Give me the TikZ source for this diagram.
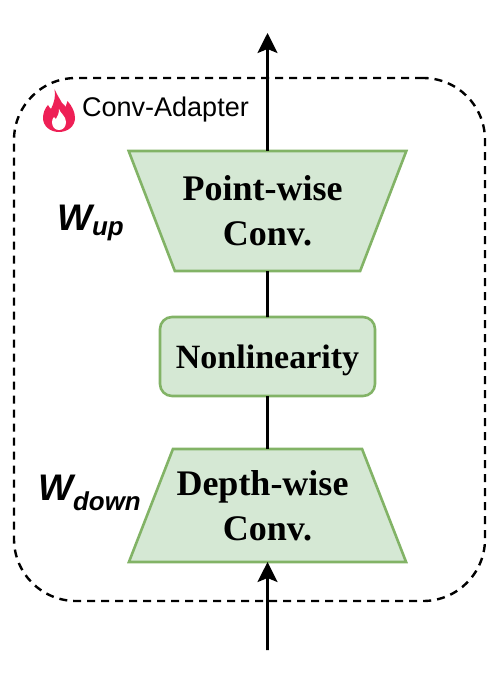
\documentclass[tikz,border=0pt]{standalone}
\usepackage{fontspec}
\setmainfont{Liberation Serif}
\setsansfont{Liberation Sans}
\usetikzlibrary{shapes.geometric,positioning,calc,arrows.meta}
\definecolor{blockfill}{HTML}{D5E8D4}
\definecolor{blockline}{HTML}{82B366}
\definecolor{flamered}{HTML}{EE2056}
\tikzset{BLOCK/.style={draw=blockline,fill=blockfill,line width=2.6pt,outer sep=0pt,inner sep=0pt,align=center,font=\bfseries\fontsize{36}{45}\selectfont}}
\tikzset{TRAP/.style={BLOCK,trapezium,trapezium stretches=true,minimum width=278pt}}
\tikzset{ARROW/.style={line width=2.6pt,-{Stealth[length=20pt,width=20pt,inset=4pt]}}}
\tikzset{WIRE/.style={line width=2.6pt}}
\tikzset{WEIGHT/.style={font=\sffamily\bfseries\itshape\fontsize{37}{40}\selectfont,inner sep=0pt}}

\begin{document}
\begin{tikzpicture}[x=1pt,y=-1pt]
\useasboundingbox (0,0) rectangle (498,687);

\node[draw,line width=2.4pt,dash pattern=on 8pt off 6pt,rounded corners=62pt,minimum width=471pt,minimum height=523pt,inner sep=0pt] (n_adapter) at (249.5,339.5) {};

\node[TRAP,trapezium angle=59,shape border rotate=180,minimum height=120pt] (n_point) at (267.5,211) {Point-wise\hspace*{10pt}\\Conv.};
\node[BLOCK,rectangle,rounded corners=12pt,minimum width=215pt,minimum height=79pt,text height=32pt,text depth=7.5pt,font=\bfseries\fontsize{34}{40}\selectfont] (n_nonlin) at (267.5,356.5) {Nonlinearity};
\node[TRAP,trapezium angle=59,minimum height=113pt] (n_depth) at (267.5,505.5) {Depth-wise\hspace*{10pt}\\Conv.};

\coordinate (c_in) at (267.5,650);
\coordinate (c_out) at (267.5,33);
\draw[ARROW] (c_in) -- (n_depth.south);
\draw[WIRE] (n_depth.north) -- (n_nonlin.south);
\draw[WIRE] (n_nonlin.north) -- (n_point.south);
\draw[ARROW] (n_point.north) -- (c_out);

\node[anchor=west,inner sep=0pt,font=\sffamily\fontsize{27}{30}\selectfont] (n_title) at (82,110) {Conv-Adapter};
\node[WEIGHT,anchor=base west] (n_wup) at (57,230) {W\textsubscript{up}};
\node[WEIGHT,anchor=base west] (n_wdown) at (38,500) {W\textsubscript{down}};

% flame icon
\fill[flamered] (54.5,89) .. controls (57,95) and (60,99) .. (62,103) .. controls (64,104) and (65,106) .. (65.5,107) .. controls (66,105) and (67,103) .. (67.5,101) .. controls (72,106) and (75,112) .. (75,118) .. controls (75,126) and (68,132) .. (59,132) .. controls (50,132) and (43,126) .. (43,118) .. controls (43,113) and (45,108) .. (48,105) .. controls (49,107) and (50,108) .. (51,109) .. controls (54,103) and (56,96) .. (54.5,89) -- cycle;
\fill[white] (59,109) .. controls (60,113) and (66,116) .. (66,122) .. controls (66,127) and (63,130) .. (59,130) .. controls (55,130) and (52,127) .. (52,122) .. controls (52,120) and (53,118) .. (54,117) .. controls (55,118) and (55.5,119) .. (56,119) .. controls (58,116) and (59,113) .. (59,109) -- cycle;

\end{tikzpicture}
\end{document}
